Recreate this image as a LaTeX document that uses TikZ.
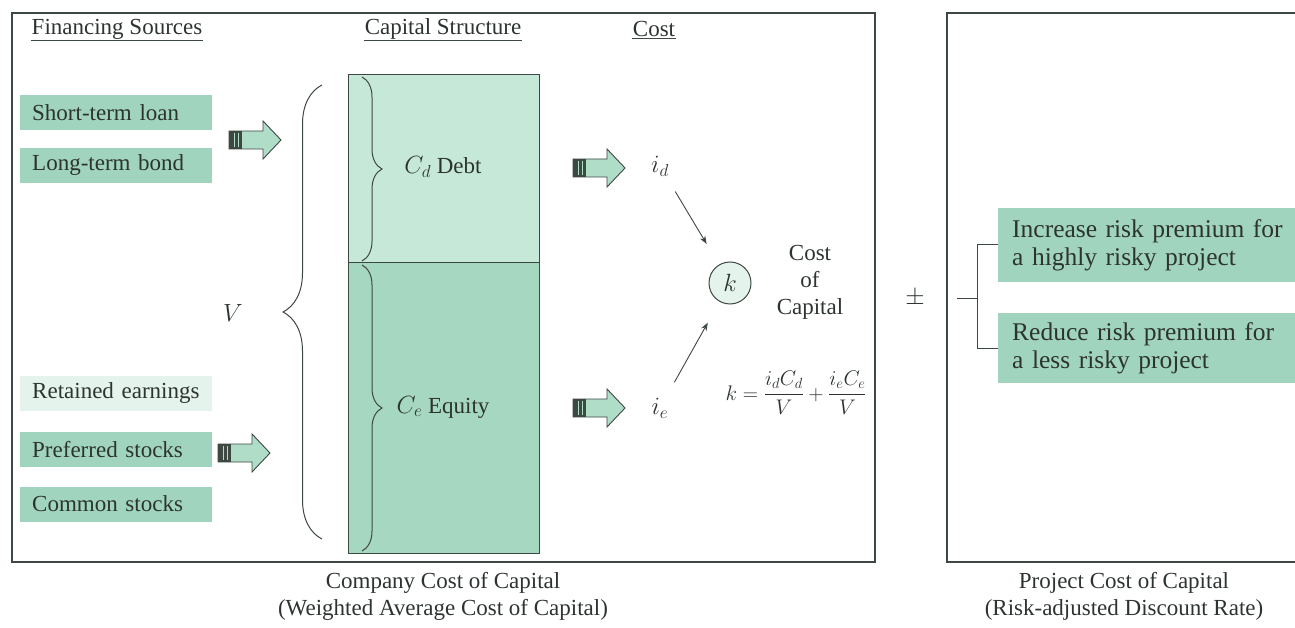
\documentclass[tikz,border=0pt]{standalone}
\usepackage{amsmath}
\usepackage{graphicx}
\usepackage{fontspec}
\setmainfont{Liberation Serif}
\usepackage{tikz}
\usetikzlibrary{calc,arrows.meta,decorations.pathreplacing}
\usepackage{xcolor}
\definecolor{ink}{RGB}{45,52,48}
\definecolor{rule}{RGB}{62,72,66}
\definecolor{srcgreen}{RGB}{160,212,191}
\definecolor{palegreen}{RGB}{228,243,236}
\definecolor{debtgreen}{RGB}{198,232,216}
\definecolor{eqgreen}{RGB}{166,215,192}
\definecolor{arrowgreen}{RGB}{176,221,200}

\begin{document}
\begin{tikzpicture}[x=1pt,y=-1pt]
  \tikzset{every node/.style={font=\fontsize{23}{27}\selectfont,text=ink}}
  \tikzset{panel/.style={draw=rule,line width=1.1pt}}
  \tikzset{heading/.style={inner sep=1pt}}
  \tikzset{srcbox/.style={fill=srcgreen,minimum width=192pt,minimum height=35pt,inner sep=0pt,inner xsep=12pt,text width=168pt,align=left,anchor=west}}
  \tikzset{riskbox/.style={fill=srcgreen,minimum width=297pt,inner sep=0pt,inner xsep=14pt,text width=285pt,align=left,anchor=west,font=\fontsize{25.5}{28}\selectfont}}
  \tikzset{fatarrow/.style={draw=rule,fill=arrowgreen,line width=0.9pt,line join=miter}}
  \tikzset{costarrow/.style={draw=rule,line width=0.9pt,-{Stealth[length=8pt,width=6pt]}}}
  \tikzset{bigbrace/.style={draw=rule,line width=1pt,decorate,decoration={brace,amplitude=#1,aspect=0.5}}}
  \useasboundingbox (0,0) rectangle (1295,628);

  % panels
  \draw[panel] (12,13) rectangle (875,562);
  \draw[panel] (1296,13) -- (947,13) -- (947,562) -- (1296,562);

  % column headings
  \node[heading] (hsrc) at (117,29) {Financing Sources};
  \node[heading] (hcap) at (443,29) {Capital Structure};
  \node[heading] (hcost) at (654,29) {Cost};
  \draw[rule,line width=0.8pt] (hsrc.south west) -- (hsrc.south east);
  \draw[rule,line width=0.8pt] (hcap.south west) -- (hcap.south east);
  \draw[rule,line width=0.8pt] (hcost.south west) -- (hcost.south east);

  % financing sources
  \node[srcbox] (loan) at (20,112.5) {Short-term loan};
  \node[srcbox] (bond) at (20,165.5) {Long-term bond};
  \node[srcbox,fill=palegreen] (retain) at (20,393.5) {Retained earnings};
  \node[srcbox] (pref) at (20,449.5) {Preferred stocks};
  \node[srcbox] (common) at (20,504) {Common stocks};

  % block arrows
  \foreach \ax/\ay in {229/140, 218/453, 573/168, 573/408} {
    \coordinate (fa) at (\ax,\ay);
    \draw[fatarrow] (fa) ++(0,-9) -- ++(34,0) -- ++(0,-10) -- ++(18,19) -- ++(-18,19) -- ++(0,-10) -- ++(-34,0) -- cycle;
    \fill[rule] ($(fa)+(0,-9)$) rectangle ($(fa)+(13,9)$);
    \draw[arrowgreen,line width=0.8pt] ($(fa)+(5,-7)$) -- ($(fa)+(5,7)$);
    \draw[arrowgreen,line width=0.8pt] ($(fa)+(9,-7)$) -- ($(fa)+(9,7)$);
  }

  % total value brace
  \draw[bigbrace=39pt] (322,539) -- (322,85);
  \node (val) at (233,313) {$V$};

  % capital structure
  \fill[debtgreen] (348,75) rectangle (539,263);
  \fill[eqgreen] (348,263) rectangle (539,553);
  \draw[rule,line width=1pt] (348,75) rectangle (539,553);
  \draw[rule,line width=1pt] (348,263) -- (539,263);
  \draw[bigbrace=20pt] (362,77) -- (362,261);
  \draw[bigbrace=20pt] (362,265) -- (362,551);
  \node (debt) at (443,167) {$C_d$ Debt};
  \node (equity) at (443,407) {$C_e$ Equity};

  % cost of capital
  \node (id) at (660,166) {$i_d$};
  \node (ie) at (660,408) {$i_e$};
  \node[circle,draw=rule,fill=palegreen,line width=1pt,minimum size=42pt,inner sep=0pt] (k) at (730,283) {$k$};
  \draw[costarrow,shorten <=14pt,shorten >=24pt] (id) -- (k);
  \draw[costarrow,shorten <=14pt,shorten >=24pt] (ie) -- (k);
  \node[align=center] (coc) at (810,282) {Cost\\of\\Capital};
  \node (wacc) at (796,393) {\scalebox{0.85}{$k=\dfrac{i_dC_d}{V}+\dfrac{i_eC_e}{V}$}};

  % project adjustment
  \node (pm) at (915,298) {$\pm$};
  \node[riskbox,minimum height=74pt] (incr) at (998,245) {Increase risk premium for\\a highly risky project};
  \node[riskbox,minimum height=70pt] (redu) at (998,348) {Reduce risk premium for\\a less risky project};
  \coordinate (fork) at (977,298);
  \draw[rule,line width=1pt] (957,298) -- (fork);
  \draw[rule,line width=1pt] (incr.west) -| (fork) |- (redu.west);

  % captions
  \node[align=center] (capco) at (443,596) {Company Cost of Capital\\(Weighted Average Cost of Capital)};
  \node[align=center] (cappr) at (1124,596) {Project Cost of Capital\\(Risk-adjusted Discount Rate)};
\end{tikzpicture}
\end{document}
